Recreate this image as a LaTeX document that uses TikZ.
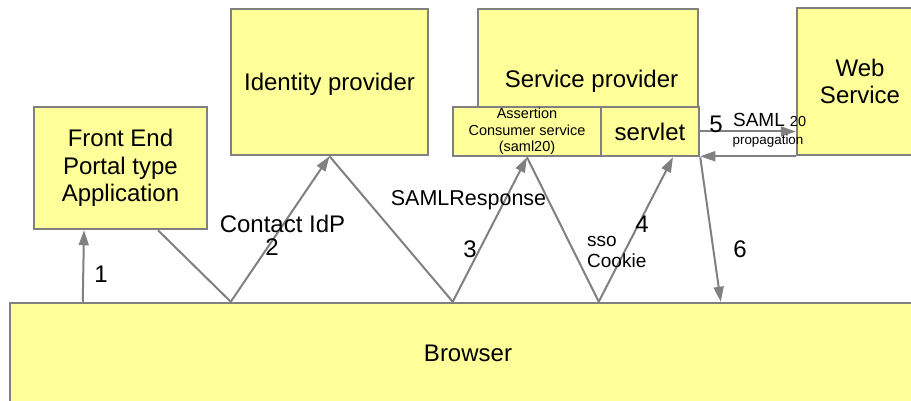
\documentclass[tikz,border=0pt]{standalone}
\usepackage{fontspec}
\setmainfont{Liberation Sans}
\usetikzlibrary{arrows.meta}
\definecolor{boxfill}{HTML}{FFFF99}
\definecolor{edgegray}{HTML}{808080}
\begin{document}
\begin{tikzpicture}[x=1pt,y=-1pt,
  box/.style={draw=edgegray, fill=boxfill, line width=2.5pt, inner sep=0pt, align=center},
  big/.style={font=\fontsize{24}{27.5}\selectfont},
  conn/.style={draw=edgegray, line width=2pt},
  arr/.style={conn, -{Triangle[length=15pt,width=10pt]}},
  lbl/.style={inner sep=0pt, anchor=base}]
\clip (0,0) rectangle (911,401);
% boxes
\node[box, big, minimum width=173pt, minimum height=122pt] (fe) at (120.5,168) {Front End\\Portal type\\Application};
\node[box, big, text depth=0pt, minimum width=197pt, minimum height=146pt] (idp) at (329.5,82) {Identity provider};
\node[box, minimum width=220pt, minimum height=98pt] (sp) at (588,58) {};
\node[box, font=\fontsize{14.5}{16.5}\selectfont, minimum width=148pt, minimum height=49pt] (acs) at (527,131.5) {Assertion\\Consumer service\\(saml20)};
\node[box, big, minimum width=98pt, minimum height=49pt] (servlet) at (650,131.5) {servlet};
\node[box, big, minimum width=126pt, minimum height=147pt] (ws) at (860,81.5) {Web\\Service};
\node[box, big, minimum width=916pt, minimum height=101pt] (browser) at (468,353.5) {Browser};
\node[lbl, big] (splabel) at (591.5,88) {Service provider};
% connectors
\draw[arr] ([xshift=74pt]browser.north west) -- (fe.south -| {84,0});
\draw[conn] ([xshift=37.5pt]fe.south) -- ([xshift=222pt]browser.north west);
\draw[arr] ([xshift=222pt]browser.north west) -- (idp.south);
\draw[conn] (idp.south) -- ([xshift=444pt]browser.north west);
\draw[arr] ([xshift=444pt]browser.north west) -- (acs.south);
\draw[conn] (acs.south) -- ([xshift=590pt]browser.north west);
\draw[arr] ([xshift=590pt]browser.north west) -- ([xshift=23pt]servlet.south);
\draw[arr] (servlet.south east) -- ([xshift=712pt]browser.north west);
\draw[arr] (servlet.east) -- (servlet.east -| ws.west);
\draw[arr] (ws.south west) -- (ws.south west -| servlet.east);
% labels
\node[lbl, big] (l1) at (101,282) {1};
\node[lbl, big] (lcontact) at (282.5,233) {Contact IdP};
\node[lbl, big] (l2) at (272,255) {2};
\node[lbl, font=\fontsize{21.5}{24}\selectfont] (lsaml) at (468.5,205) {SAMLResponse};
\node[lbl, big] (l3) at (470,258) {3};
\node[lbl, big] (l4) at (642,233) {4};
\node[lbl, anchor=base west, font=\fontsize{19}{21}\selectfont] (lsso) at (587,247) {sso};
\node[lbl, anchor=base west, font=\fontsize{19}{21}\selectfont] (lcookie) at (587,267) {Cookie};
\node[lbl, big] (l6) at (740,257) {6};
\node[lbl, big] (l5) at (716,133) {5};
\node[lbl, font=\fontsize{19}{21}\selectfont] (lsaml2) at (759,127) {SAML};
\node[lbl, font=\fontsize{14.5}{16}\selectfont] (l20) at (798,127) {20};
\node[lbl, font=\fontsize{13.4}{15}\selectfont] (lprop) at (768,145) {propagation};
\end{tikzpicture}
\end{document}
